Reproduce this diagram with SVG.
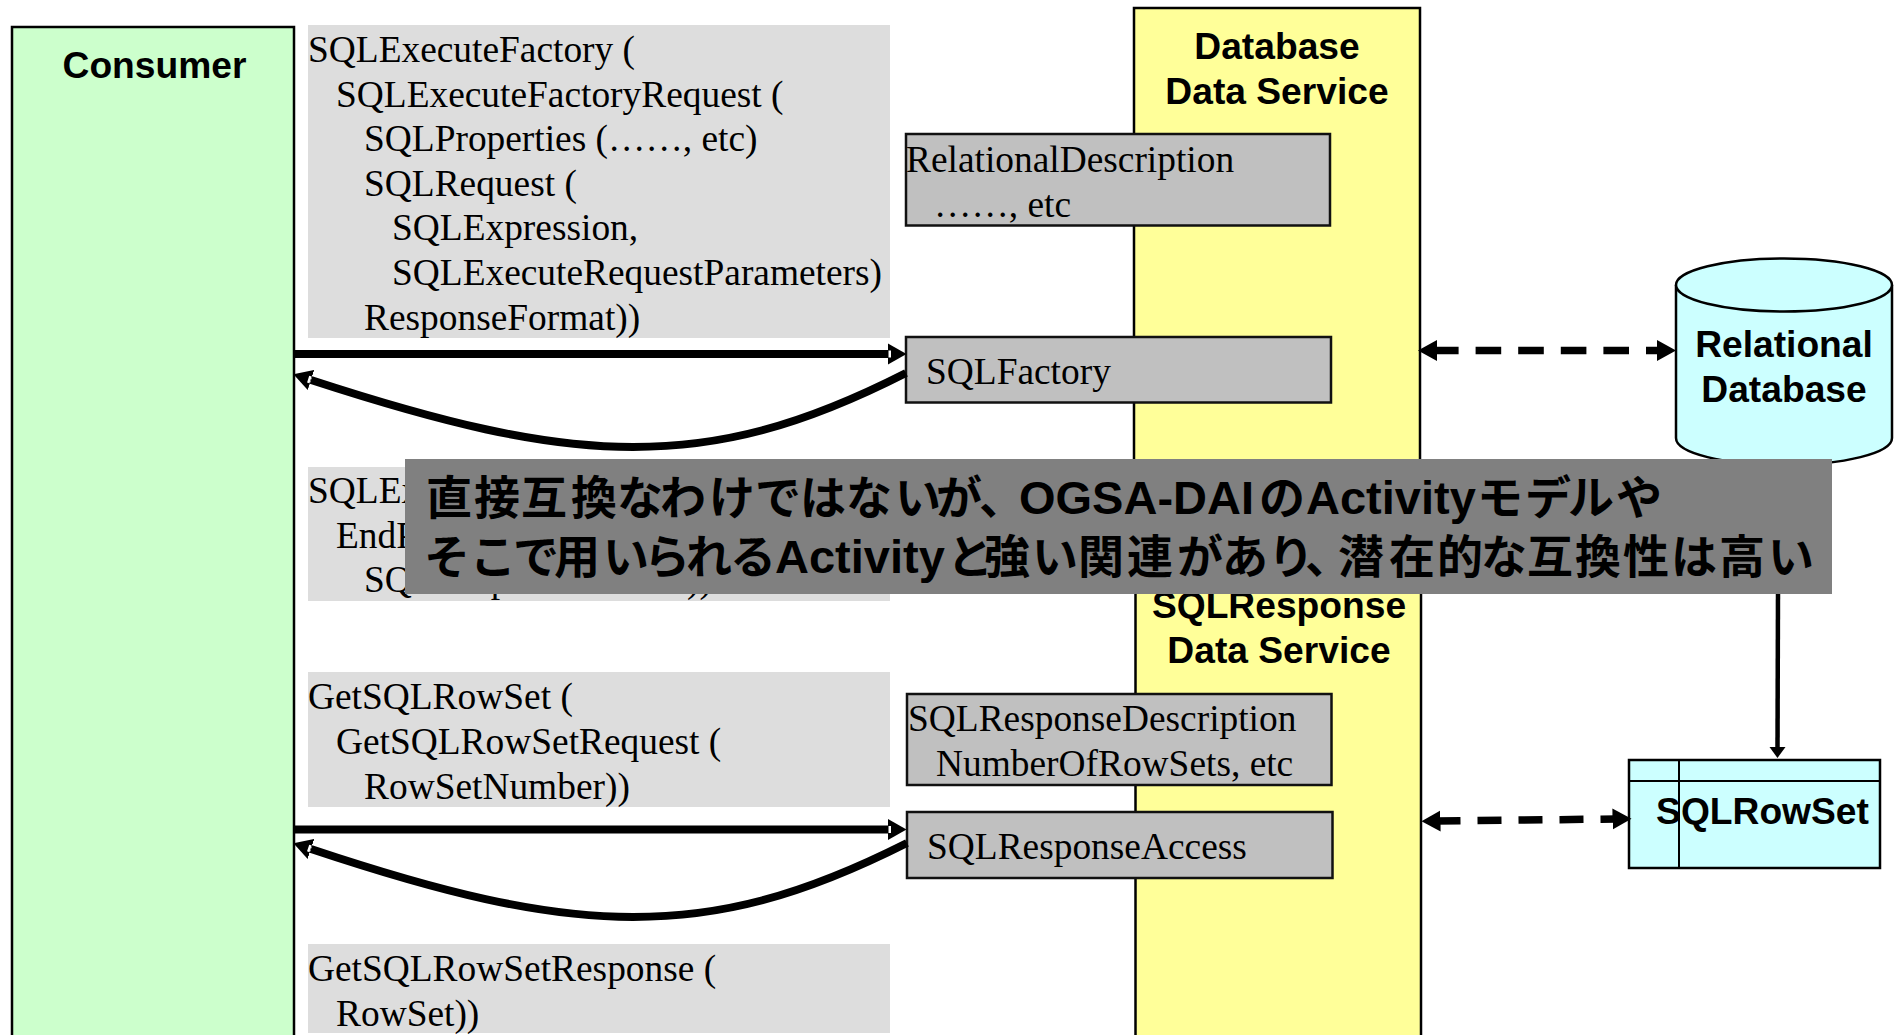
<svg xmlns="http://www.w3.org/2000/svg" width="1898" height="1035" viewBox="0 0 1898 1035">
<style>
.t{font-family:"Liberation Serif","Times New Roman",serif;font-size:37.4px;fill:#000}
.b{font-family:"Liberation Sans",Arial,sans-serif;font-size:37.2px;font-weight:bold;fill:#000;text-anchor:middle}
.j{font-family:"Noto Sans CJK JP","Liberation Sans",sans-serif;font-size:46px;font-weight:bold;fill:#000}
.l{font-family:"Liberation Sans",Arial,sans-serif;font-size:47px;font-weight:bold}
.lane{stroke:#000;stroke-width:2.5}
.msg{fill:#DDDDDD}
.box{fill:#C0C0C0;stroke:#111;stroke-width:2.5}
.cy{fill:#CCFFFF;stroke:#000;stroke-width:2.5}
.solid{fill:none;stroke:#000;stroke-width:8}
.dash{fill:none;stroke:#000;stroke-width:7.5;marker-start:url(#dh);marker-end:url(#dh)}
</style>
<defs>
<marker id="sh" markerUnits="userSpaceOnUse" markerWidth="20" markerHeight="24" viewBox="0 0 20 24" refX="0" refY="12" orient="auto-start-reverse">
<path d="M0 1.500L18.500 12L0 22.500Z" fill="#000"/><rect x="0.500" y="8.500" width="2.500" height="7" fill="#fff"/>
</marker>
<marker id="dh" markerUnits="userSpaceOnUse" markerWidth="24" markerHeight="24" viewBox="0 0 24 24" refX="4" refY="12" orient="auto-start-reverse">
<path d="M0 1.500L19 12L0 22.500Z" fill="#000"/>
</marker>
<marker id="vh" markerUnits="userSpaceOnUse" markerWidth="12" markerHeight="18" viewBox="0 0 12 18" refX="0" refY="9" orient="auto">
<path d="M0 1L11 9L0 17Z" fill="#000"/>
</marker>
</defs>

<g id="consumer">
<rect class="lane" x="12" y="27" width="282" height="1030" fill="#CCFFCC"/>
<text class="b" x="154.500" y="78">Consumer</text>
</g>

<g id="database-data-service">
<rect class="lane" x="1134" y="8" width="286" height="520" fill="#FFFF99"/>
<text class="b" x="1277" y="59">Database</text>
<text class="b" x="1277" y="104">Data Service</text>
</g>

<g id="sqlresponse-data-service">
<rect class="lane" x="1135.500" y="570" width="285.500" height="490" fill="#FFFF99"/>
<text class="b" x="1279" y="618">SQLResponse</text>
<text class="b" x="1279" y="663">Data Service</text>
</g>

<g id="msg-execute-factory">
<rect class="msg" x="308" y="25" width="582" height="313"/>
<text class="t" x="308" y="62">SQLExecuteFactory (</text>
<text class="t" x="336" y="107">SQLExecuteFactoryRequest (</text>
<text class="t" x="364" y="151">SQLProperties (……, etc)</text>
<text class="t" x="364" y="196">SQLRequest (</text>
<text class="t" x="392" y="240">SQLExpression,</text>
<text class="t" x="392" y="285">SQLExecuteRequestParameters)</text>
<text class="t" x="364" y="330">ResponseFormat))</text>
</g>

<g id="msg-factory-response">
<rect class="msg" x="308" y="467" width="582" height="134"/>
<text class="t" x="308" y="503">SQLEx</text>
<text class="t" x="336" y="548">EndP</text>
<text class="t" x="364" y="592">SQLResponse</text>
<text class="t" x="687" y="592">))</text>
</g>

<g id="msg-get-rowset">
<rect class="msg" x="308" y="672" width="582" height="135"/>
<text class="t" x="308" y="709">GetSQLRowSet (</text>
<text class="t" x="336" y="754">GetSQLRowSetRequest (</text>
<text class="t" x="364" y="799">RowSetNumber))</text>
</g>

<g id="msg-get-rowset-response">
<rect class="msg" x="308" y="944" width="582" height="89"/>
<text class="t" x="308" y="981">GetSQLRowSetResponse (</text>
<text class="t" x="336" y="1026">RowSet))</text>
</g>

<g id="relational-description">
<rect class="box" x="906" y="134" width="424" height="91.500"/>
<text class="t" x="906" y="172">RelationalDescription</text>
<text class="t" x="934" y="217">……, etc</text>
</g>

<g id="sql-factory">
<rect class="box" x="906" y="337" width="425" height="65.500"/>
<text class="t" x="926" y="384">SQLFactory</text>
</g>

<g id="sql-response-description">
<rect class="box" x="907" y="694" width="424.500" height="91"/>
<text class="t" x="908" y="731">SQLResponseDescription</text>
<text class="t" x="936" y="776">NumberOfRowSets, etc</text>
</g>

<g id="sql-response-access">
<rect class="box" x="907" y="812" width="425.500" height="66"/>
<text class="t" x="927" y="859">SQLResponseAccess</text>
</g>

<g id="relational-database">
<path class="cy" d="M1676 285V438C1676 453 1724 465 1784 465S1892 453 1892 438V285"/>
<ellipse class="cy" cx="1784" cy="285" rx="108" ry="26.500"/>
<text class="b" x="1784" y="357">Relational</text>
<text class="b" x="1784" y="402">Database</text>
</g>

<g id="sql-rowset">
<rect class="cy" x="1629" y="760" width="251" height="108"/>
<path d="M1629 781H1880M1679 760V868" fill="none" stroke="#000" stroke-width="2"/>
<text class="b" x="1762.500" y="824">SQLRowSet</text>
</g>

<g id="connectors">
<path class="solid" d="M294 354H888" marker-end="url(#sh)"/>
<path class="solid" d="M906 373C800 427 720 447 633 447C540 447 440 422 311 380" marker-end="url(#sh)"/>
<path class="solid" d="M294 829.500H888" marker-end="url(#sh)"/>
<path class="solid" d="M907 843C800 897 720 917 633 917C540 917 440 892 311 849" marker-end="url(#sh)"/>
<path class="dash" d="M1433 350.500H1661" stroke-dasharray="25.600 17"/>
<path class="dash" d="M1436.500 821L1616.500 819" stroke-dasharray="24 17"/>
<path d="M1778 590L1777.500 747" fill="none" stroke="#000" stroke-width="4.500" marker-end="url(#vh)"/>
</g>

<g id="note">
<rect x="405" y="459" width="1427" height="135" fill="#808080"/>
<text class="j" y="514"><tspan x="426 474 521 571 617 660 709 755 800 846 895 936 979">直接互換なわけではないが、</tspan><tspan class="l" x="1019">OGSA-DAI</tspan><tspan x="1259">の</tspan><tspan class="l" x="1306">Activity</tspan><tspan x="1477 1525 1568 1616">モデルや</tspan></text>
<text class="j" y="572.500"><tspan x="424 470 513 554 603 644 686 730">そこで用いられる</tspan><tspan class="l" x="775">Activity</tspan><tspan x="947 984 1032 1078 1127 1177 1222 1268 1305 1338 1389 1437 1481 1527 1575 1623 1671 1719 1768">と強い関連があり、潜在的な互換性は高い</tspan></text>
</g>
</svg>
